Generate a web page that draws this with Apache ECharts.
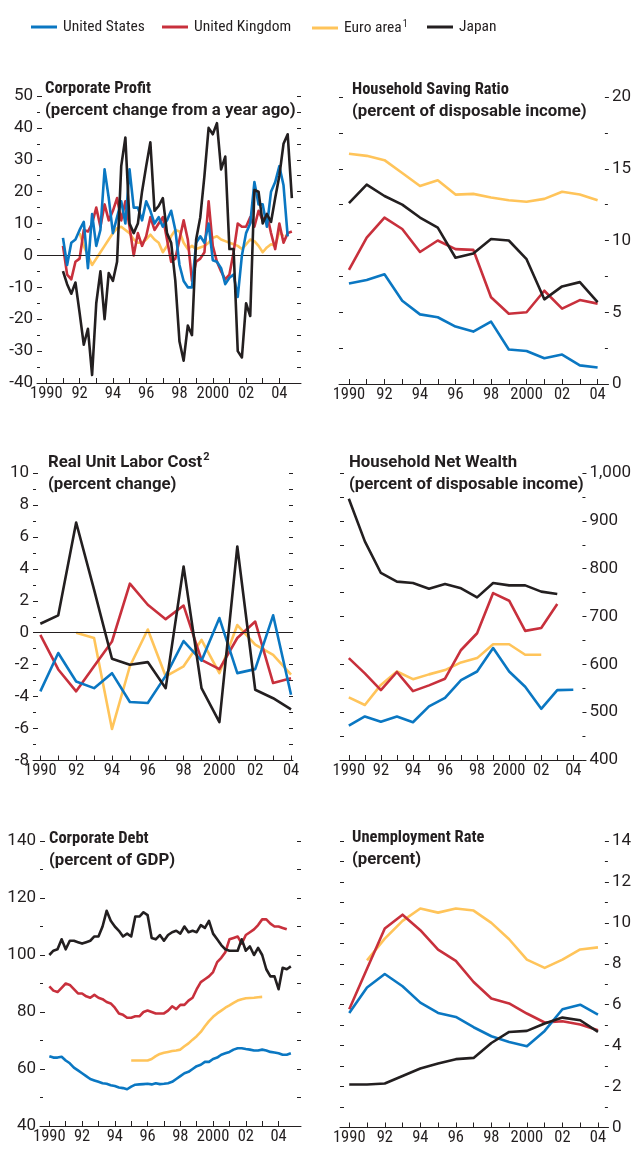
<!DOCTYPE html>
<html>
<head>
<meta charset="utf-8">
<script src="https://cdn.jsdelivr.net/npm/echarts@6/dist/echarts.min.js"></script>
<style>
  html, body { margin: 0; padding: 0; background: #fff; }
  #chart { width: 634px; height: 1150px; }
</style>
</head>
<body>
<div id="chart"></div>
<script>
let years = [1990, 1991, 1992, 1993, 1994, 1995, 1996, 1997, 1998, 1999, 2000, 2001, 2002, 2003, 2004];
let labelYears = [1990, 1992, 1994, 1996, 1998, 2000, 2002, 2004];
let names = ["United States", "United Kingdom", "Euro area", "Japan"];

// corporate profit, quarterly from 1991Q1 (euro from 1992Q1)
let profitUS = [5.5, -3, 4, 5, 8, 10.5, -4, 13, 3, 8, 27, 18, 7, 12, 17, 10, 27, 15, 15, 11, 17, 14, 10, 12, 9, 11, 14, 8, -3, -8, -10, -10, 4, 6, 4, 10, -1.5, -2, -4, -9, -7, -6, -13, 0, 7, 10, 23, 16, 16, 9, 20, 23, 28, 22, 6];
let profitUK = [3, -6, -7.5, -2, -1, 8, 7.5, 10, 15, 9, 16, 11, 14, 18, 11, 17, 9, 0, 7, 3, 6, 12, 8, 10, 12, 5, -2, -1, 5, 11, 5, -8, -2, -1, 1, 17, 3, -2, -5, -7.5, -6, 1, 10, 9, 9, 12, 9, 14, 11, 13, 7, 2, 10, 4, 7, 7.5];
let profitEuro = [7, 3, 0, -3, -1, 1, 3, 5, 7, 8.5, 9, 8, 7, 5, 4, 4, 5, 6.5, 5, 4, 1, 3, 6, 8, 7.5, 4, 2, 3, 2, 2.5, 3, 4, 5.5, 6, 5, 4.5, 4, 3.5, 3, 2, 3.5, 5, 4.5, 3, 1, 2.5, 3.5, 3, 7.5, 6];
let profitJapan = [-4.9, -9, -12, -8.5, -18, -28, -23, -37.5, -15, -5, -20, -5.5, -8, -2, 28, 37, 10, 7, 10, 20, 28, 35.5, 14, 15.5, 18, 7, 4, -8, -27, -33, -22, -25, 5, 12, 25, 40, 38, 41.5, 27, 31, 2, 2, -30, -32, -15, -19, 20.5, 20, 10, 13, 10.5, 18, 25, 35, 38, 18];

// household saving ratio, annual
let savingUS = [7.0, 7.25, 7.65, 5.8, 4.85, 4.65, 4.0, 3.65, 4.35, 2.4, 2.3, 1.8, 2.05, 1.3, 1.15];
let savingUK = [7.95, 10.2, 11.6, 10.8, 9.2, 10.0, 9.4, 9.35, 6.05, 4.9, 5.0, 6.5, 5.25, 5.85, 5.6];
let savingEuro = [16.05, 15.9, 15.6, 14.7, 13.8, 14.2, 13.2, 13.25, 13.0, 12.8, 12.7, 12.9, 13.4, 13.2, 12.8];
let savingJapan = [12.6, 13.9, 13.1, 12.5, 11.6, 10.9, 8.8, 9.1, 10.1, 10.0, 8.7, 5.9, 6.8, 7.1, 5.7];

// real unit labor cost, annual
let ulcUS = [-3.67, -1.27, -3.05, -3.47, -2.53, -4.34, -4.4, -2.7, -0.52, -1.75, 0.92, -2.53, -2.28, 1.09, -3.88];
let ulcUK = [-0.13, -2.3, -3.67, -2.1, -0.55, 3.07, 1.75, 0.85, 1.7, -1.7, -2.28, -0.33, 0.7, -3.15, -2.85];
let ulcEuro = [null, null, 0.0, -0.33, -6.03, -2.1, 0.2, -2.73, -2.1, -0.45, -2.53, 0.48, -0.75, -1.38, -2.63];
let ulcJapan = [0.56, 1.09, 6.9, 2.7, -1.63, -2.0, -1.84, -3.47, 4.15, -3.47, -5.6, 5.4, -3.57, -4.1, -4.8];

// household net wealth, annual
let wealthUS = [472, 491, 480, 491, 479, 512, 530, 567, 585, 634, 585, 553, 507, 546, 547];
let wealthUK = [613, 581, 546, 584, 544, 556, 570, 630, 665, 749, 733, 670, 676, 726, null];
let wealthEuro = [531, 515, 557, 585, 569, 579, 588, 604, 613, 642, 642, 620, 620, null, null];
let wealthJapan = [946, 857, 791, 773, 770, 758, 768, 759, 740, 770, 765, 765, 752, 747, null];

// corporate debt, quarterly from 1990Q1 (euro from 1995Q1)
let debtUS = [64.5, 64, 64, 64.3, 63, 62, 60.5, 59.5, 58.5, 57.5, 56.5, 56, 55.5, 55, 54.8, 54.3, 54, 53.5, 53.3, 52.9, 53.8, 54.5, 54.6, 54.7, 54.8, 54.6, 55, 54.7, 54.8, 55, 55.5, 56.5, 57.5, 58.5, 59, 60, 61, 61.5, 62.5, 62.5, 63.5, 64, 65, 65.5, 66, 66.8, 67.3, 67.3, 67, 66.8, 66.5, 66.5, 66.8, 66.5, 66, 65.8, 65.5, 65, 65, 65.5];
let debtUK = [89, 87.5, 87, 88.5, 90, 89.5, 88, 86.5, 86.5, 85.5, 85, 86, 85, 84.5, 83.5, 83, 81.5, 79.5, 79, 78, 78, 78.5, 78.5, 80, 80.5, 80, 79.5, 79.5, 79.5, 80.5, 82, 81, 82.5, 82.5, 84, 85, 88, 90.5, 91.5, 92.5, 94, 97.5, 99, 101, 105.5, 106, 106.5, 104, 107, 108, 109, 110.5, 112.5, 112.5, 111, 110, 110, 109.5, 109];
let debtEuro = [63, 63, 63, 63, 63, 63.5, 64.5, 65.3, 65.7, 66, 66.3, 66.5, 66.8, 68, 69, 70.3, 71.5, 73, 75, 76.8, 78.3, 79.5, 80.5, 81.5, 82.3, 83.2, 84, 84.5, 84.8, 84.9, 85, 85.2, 85.3];
let debtJapan = [100, 101.5, 102, 105.5, 102, 105, 105, 104.5, 104, 104.5, 105, 106.5, 106.5, 110, 115.5, 112, 110, 108.5, 106.5, 107.5, 106.5, 113.5, 113.5, 115, 114, 106, 105.5, 107, 105, 107, 108, 108.5, 107.5, 110, 108, 108.5, 108, 110.5, 109.5, 112, 107.5, 105.5, 103.5, 102, 101.5, 101.5, 101.5, 105.5, 101.5, 103, 100, 102.5, 100, 95, 92.5, 92.5, 88, 95.5, 95, 96];

// unemployment rate, annual
let unempUS = [5.6, 6.84, 7.5, 6.9, 6.1, 5.6, 5.4, 4.9, 4.46, 4.18, 3.97, 4.72, 5.78, 6.0, 5.52];
let unempUK = [5.78, 7.76, 9.72, 10.4, 9.64, 8.69, 8.14, 7.11, 6.3, 6.06, 5.57, 5.13, 5.19, 5.03, 4.75];
let unempEuro = [null, 8.17, 9.23, 10.1, 10.7, 10.5, 10.7, 10.6, 10.0, 9.2, 8.2, 7.8, 8.2, 8.7, 8.8];
let unempJapan = [2.1, 2.1, 2.15, 2.52, 2.88, 3.13, 3.34, 3.4, 4.13, 4.67, 4.72, 5.08, 5.37, 5.24, 4.67];

let ink = "#231f20";
let color = ["#0a77c2", "#c8303c", "#ffc45a", "#231f20"];
let font = "'Roboto Condensed', 'Liberation Sans', sans-serif";
let wideFont = "Roboto, 'Liberation Sans', sans-serif";

function quarterly(start, vals) {
  return vals.map((v, i) => [start + i / 4, v]);
}
function annual(vals) {
  return vals.map((v, i) => [years[i], v]);
}

// panel geometry: grid box and x range
let panels = [
  { left: 37, top: 96, width: 264, height: 287, xmin: 1989.44, xmax: 2005.3 },
  { left: 339, top: 97, width: 268, height: 287, xmin: 1989.44, xmax: 2004.41 },
  { left: 33, top: 473, width: 260, height: 287.5, xmin: 1989.59, xmax: 2004.11 },
  { left: 340, top: 473, width: 247, height: 287, xmin: 1989.45, xmax: 2004.57 },
  { left: 40, top: 841, width: 261, height: 285, xmin: 1989.43, xmax: 2005.37 },
  { left: 340, top: 841, width: 267, height: 286.5, xmin: 1989.48, xmax: 2004.39 }
];

let grid = panels.map(p => ({ left: p.left, top: p.top, width: p.width, height: p.height }));

let xAxis = panels.map((p, i) => ({
  type: "value", gridIndex: i, min: p.xmin, max: p.xmax,
  axisLine: { show: true, onZero: false, lineStyle: { color: ink, width: 1 } },
  axisTick: { show: true, inside: true, length: 5, customValues: years, lineStyle: { color: ink } },
  axisLabel: {
    show: true, customValues: labelYears, margin: 2, color: ink, fontSize: 16.5, fontFamily: font,
    formatter: v => (v == 1990 || v == 2000) ? String(v) : String(v).slice(2)
  },
  splitLine: { show: false }
}));

function labelAxis(gi, pos, min, max, interval, minorSplit, fmt) {
  return {
    type: "value", gridIndex: gi, position: pos, min: min, max: max, interval: interval,
    axisLine: { show: false },
    axisTick: { show: true, inside: pos == "left", length: pos == "left" ? 5 : 4, lineStyle: { color: ink } },
    minorTick: { show: true, splitNumber: minorSplit, length: 3, lineStyle: { color: ink } },
    axisLabel: { show: true, margin: pos == "left" ? 4 : 7, color: ink, fontSize: 17, fontFamily: wideFont, formatter: fmt },
    splitLine: { show: false }, minorSplitLine: { show: false }
  };
}
function tickAxis(gi, pos, min, max, interval) {
  return {
    type: "value", gridIndex: gi, position: pos, min: min, max: max, interval: interval,
    axisLine: { show: false },
    axisTick: { show: true, inside: true, length: 4, lineStyle: { color: ink } },
    axisLabel: { show: false },
    splitLine: { show: false }
  };
}

let yAxis = [
  labelAxis(0, "left", -40, 50, 10, 2), tickAxis(0, "right", -40, 50, 5),
  tickAxis(1, "left", 0, 20, 2.5), labelAxis(1, "right", 0, 20, 5, 2),
  labelAxis(2, "left", -8, 10, 2, 2), tickAxis(2, "right", -8, 10, 1),
  tickAxis(3, "left", 400, 1000, 50), labelAxis(3, "right", 400, 1000, 100, 2, v => v >= 1000 ? "1,000" : String(v)),
  labelAxis(4, "left", 40, 140, 20, 2), tickAxis(4, "right", 40, 140, 10),
  tickAxis(5, "left", 0, 14, 1), labelAxis(5, "right", 0, 14, 2, 2)
];

let zeroLine = {
  silent: true, symbol: "none", label: { show: false },
  lineStyle: { color: ink, width: 1, type: "solid" },
  data: [{ yAxis: 0 }]
};

function panelSeries(gi, yi, sets, withZero) {
  // draw euro first, then UK, US, japan on top
  let order = [2, 1, 0, 3];
  return order.map(k => {
    let s = {
      name: names[k], type: "line", xAxisIndex: gi, yAxisIndex: yi,
      data: sets[k], showSymbol: false, symbol: "none",
      lineStyle: { color: color[k], width: 2.6, join: "round" },
      itemStyle: { color: color[k] },
      z: 3 + order.indexOf(k)
    };
    if (withZero && k == 0) s.markLine = zeroLine;
    return s;
  });
}

let series = [].concat(
  panelSeries(0, 0, [quarterly(1991, profitUS), quarterly(1991, profitUK), quarterly(1992, profitEuro), quarterly(1991, profitJapan)], true),
  panelSeries(1, 3, [annual(savingUS), annual(savingUK), annual(savingEuro), annual(savingJapan)]),
  panelSeries(2, 4, [annual(ulcUS), annual(ulcUK), annual(ulcEuro), annual(ulcJapan)], true),
  panelSeries(3, 7, [annual(wealthUS), annual(wealthUK), annual(wealthEuro), annual(wealthJapan)]),
  panelSeries(4, 8, [quarterly(1990, debtUS), quarterly(1990, debtUK), quarterly(1995, debtEuro), quarterly(1990, debtJapan)]),
  panelSeries(5, 11, [annual(unempUS), annual(unempUK), annual(unempEuro), annual(unempJapan)])
);

// c = condensed bold, w = normal-width bold, s = superscript
let titleRich = {
  c: { fontSize: 16.5, fontWeight: "bold", fontFamily: font, color: ink, lineHeight: 22 },
  w: { fontSize: 16.8, fontWeight: "bold", fontFamily: wideFont, color: ink, lineHeight: 22 },
  s: { fontSize: 11, fontWeight: "bold", fontFamily: wideFont, color: ink, verticalAlign: "top", lineHeight: 22, padding: [0, 0, 8, 1] }
};
function makeTitle(left, top, l1, l2, style1, sup) {
  return {
    left: left, top: top, padding: 0,
    text: "{" + style1 + "|" + l1 + "}" + (sup ? "{s|" + sup + "}" : "") + "\n{w|" + l2 + "}",
    textStyle: { rich: titleRich }
  };
}
let title = [
  makeTitle(45, 78, "Corporate Profit", "(percent change from a year ago)", "c"),
  makeTitle(352, 79, "Household Saving Ratio", "(percent of disposable income)", "c"),
  makeTitle(48, 452, "Real Unit Labor Cost", "(percent change)", "w", "2"),
  makeTitle(349, 452, "Household Net Wealth", "(percent of disposable income)", "w"),
  makeTitle(49, 828, "Corporate Debt", "(percent of GDP)", "c"),
  makeTitle(352, 827, "Unemployment Rate", "(percent)", "c")
];

let legendLeft = [31, 162, 312, 427];
let legend = names.map((n, i) => ({
  data: [n], left: legendLeft[i], top: 19, padding: 0,
  icon: "rect", itemWidth: 26, itemHeight: 3, itemGap: 0,
  selectedMode: false,
  textStyle: {
    color: ink, fontSize: 15.5, fontFamily: font, padding: [0, 0, 0, 1],
    rich: {
      n: { fontSize: 15.5, fontFamily: font, color: ink, lineHeight: 18 },
      s: { fontSize: 10, fontFamily: font, color: ink, verticalAlign: "top", lineHeight: 18, padding: [0, 0, 7, 1] }
    }
  },
  formatter: name => name == "Euro area" ? "{n|Euro area}{s|1}" : name
}));

let chart = echarts.init(document.getElementById("chart"), null, { renderer: "canvas" });
chart.setOption({
  backgroundColor: "#fff",
  animation: false,
  title: title,
  legend: legend,
  grid: grid,
  xAxis: xAxis,
  yAxis: yAxis,
  series: series
});
</script>
</body>
</html>
